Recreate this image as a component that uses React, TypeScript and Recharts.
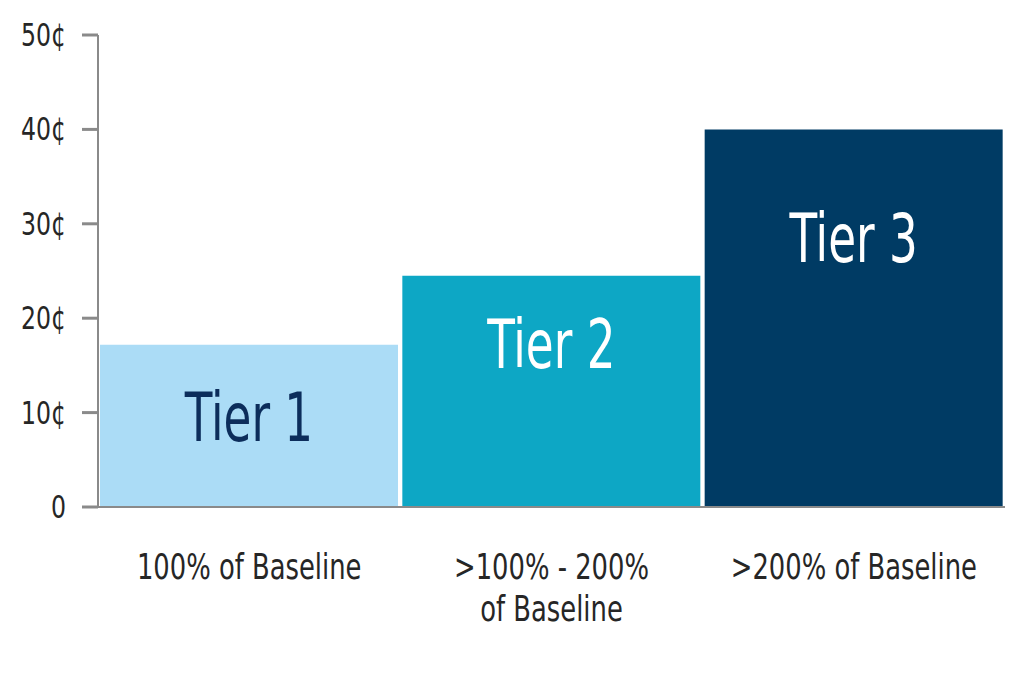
import React from 'react';
import { BarChart, Bar, XAxis, YAxis, Cell, LabelList } from 'recharts';

const categories = ['100% of Baseline', '>100% - 200%\nof Baseline', '>200% of Baseline'];
const tiers = ['Tier 1', 'Tier 2', 'Tier 3'];
const rates = [17.2, 24.5, 40];
const yTicks = [0, 10, 20, 30, 40, 50];

const barColors = ['#abdcf6', '#0da7c5', '#003b64'];
const tierTextColors = ['#0c2d5b', '#ffffff', '#ffffff'];
const tierTextOffset = [72, 68, 109];

const data = categories.map((c, i) => ({ category: c, tier: tiers[i], rate: rates[i] }));

const FONT = '"DejaVu Sans Condensed", "DejaVu Sans", sans-serif';

const CategoryTick = (props: any) => {
  const { x, y, payload } = props;
  const lines = String(payload.value).split('\n');
  return (
    <g>
      {lines.map((line, i) => (
        <text
          key={i}
          transform={`translate(${x},${y + 64 + i * 42}) scale(0.82,1)`}
          textAnchor="middle"
          fill="#262626"
          fontSize={35}
          fontFamily={FONT}
        >
          {line}
        </text>
      ))}
    </g>
  );
};

const RateTick = (props: any) => {
  const { x, y, payload } = props;
  const v = payload.value;
  return (
    <text
      transform={`translate(${x},${y}) scale(0.82,1)`}
      textAnchor="end"
      dominantBaseline="central"
      fill="#262626"
      fontSize={32}
      fontFamily={FONT}
    >
      {v === 0 ? '0' : `${v}¢`}
    </text>
  );
};

const TierLabel = (props: any) => {
  const vb = props.viewBox ?? props;
  const x = Number(vb.x ?? props.x);
  const y = Number(vb.y ?? props.y);
  const width = Number(vb.width ?? props.width);
  const i = props.index ?? 0;
  return (
    <text
      transform={`translate(${x + width / 2},${y + tierTextOffset[i]}) scale(0.74,1)`}
      textAnchor="middle"
      dominantBaseline="central"
      fill={tierTextColors[i]}
      fontSize={68}
      fontFamily={FONT}
    >
      {props.value}
    </text>
  );
};

export default function App() {
  return (
    <div style={{ position: 'absolute', left: 0, top: 0, background: '#fff' }}>
      <BarChart
        width={1024}
        height={682}
        data={data}
        margin={{ top: 35, right: 19, bottom: 55, left: 0 }}
        barCategoryGap={2}
      >
        <XAxis
          dataKey="category"
          tickLine={false}
          axisLine={{ stroke: '#8a8a8a', strokeWidth: 2 }}
          height={120}
          interval={0}
          tick={<CategoryTick />}
        />
        <YAxis
          width={98}
          domain={[0, 50]}
          ticks={yTicks}
          interval={0}
          tickSize={16}
          tickMargin={16}
          tickLine={{ stroke: '#8a8a8a', strokeWidth: 3 }}
          axisLine={{ stroke: '#8a8a8a', strokeWidth: 2 }}
          tick={<RateTick />}
        />
        <Bar dataKey="rate" isAnimationActive={false}>
          {data.map((d, i) => (
            <Cell key={d.tier} fill={barColors[i]} />
          ))}
          <LabelList dataKey="tier" content={<TierLabel />} />
        </Bar>
      </BarChart>
    </div>
  );
}
